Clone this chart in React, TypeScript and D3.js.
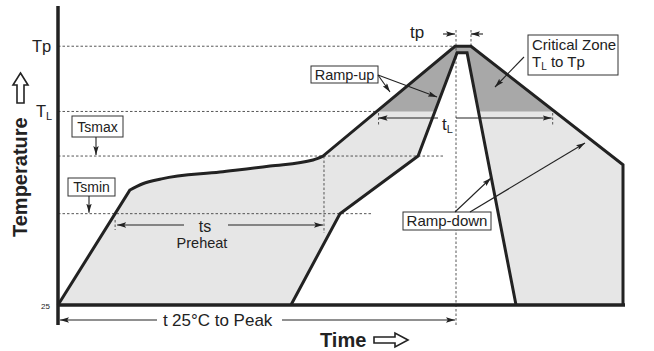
import * as d3 from "d3"

// schematic reflow profile: time in s, temperature in °C
const TP = 263
const TL = 203
const TSMAX = 162
const TSMIN = 109
const T25 = 25

const rampUpPts: [number, number][] = [[0, 25], [38.2, 130.8]]
const soakPts: [number, number][] = [
    [38.2, 130.8], [45, 136.5], [55, 141], [86, 147.3],
    [112.6, 152.8], [135.4, 158.4], [140.7, 162],
]
const peakPts: [number, number][] = [[140.7, 162], [210.8, 263], [219.3, 263], [300, 154], [300, 25]]
const innerPts: [number, number][] = [[123.7, 25], [149.7, 109], [191.2, 162], [211.9, 257], [217.2, 257], [243.2, 25]]

const tempLabels = ["Tp", "TL", "25"]

const FONT = "'Liberation Sans', Arial, Helvetica, sans-serif"
const INK = "#222"

function crossTime(a: [number, number], b: [number, number], temp: number) {
    return a[0] + ((b[0] - a[0]) * (temp - a[1])) / (b[1] - a[1])
}

export default function App() {
    const width = 654
    const height = 351
    const x = d3.scaleLinear().domain([0, 300]).range([58, 623])
    const y = d3.scaleLinear().domain([25, 300]).range([305, 6])

    const line = d3.line<[number, number]>().x((d) => x(d[0])).y((d) => y(d[1]))
    const soakLine = d3
        .line<[number, number]>()
        .x((d) => x(d[0]))
        .y((d) => y(d[1]))
        .curve(d3.curveMonotoneX)

    const outerPath =
        line(rampUpPts)! +
        soakLine(soakPts)!.replace(/^M/, "L") +
        line(peakPts)!.replace(/^M/, "L")
    const innerRev = [...innerPts].reverse()
    const regionPath = outerPath + line(innerRev)!.replace(/^M/, "L") + "Z"
    const innerPath = line(innerPts)!

    const tsStart = crossTime(rampUpPts[0], rampUpPts[1], TSMIN)
    const tsEnd = soakPts[soakPts.length - 1][0]
    const tlStart = crossTime(peakPts[0], peakPts[1], TL)
    const tlEnd = crossTime(peakPts[2], peakPts[3], TL)
    const tpStart = peakPts[1][0]
    const tpEnd = peakPts[2][0]

    const dash = { stroke: "#444", strokeWidth: 0.9, strokeDasharray: "2.5,2" }
    const arrow = { stroke: INK, strokeWidth: 1.1, markerEnd: "url(#ah)" }

    const box = (bx: number, by: number, bw: number, bh: number) => (
        <rect x={bx} y={by} width={bw} height={bh} fill="#fff" stroke="#333" strokeWidth={1} />
    )

    return (
        <svg width={width} height={height} style={{ position: "absolute", left: 0, top: 0 }} fontFamily={FONT}>
            <defs>
                <marker id="ah" viewBox="0 0 10 6" refX="10" refY="3" markerWidth="9" markerHeight="5.5"
                    markerUnits="userSpaceOnUse" orient="auto">
                    <path d="M0,0 L10,3 L0,6 L2,3 Z" fill={INK} />
                </marker>
                <clipPath id="crit">
                    <rect x={0} y={0} width={width} height={y(TL)} />
                </clipPath>
            </defs>
            <rect width={width} height={height} fill="#fff" />

            {/* zones */}
            <path d={regionPath} fill="#e6e6e6" />
            <path d={regionPath} fill="#a8a8a8" clipPath="url(#crit)" />

            {/* reference lines */}
            <line x1={x(0)} x2={x(tpStart)} y1={y(TP)} y2={y(TP)} {...dash} />
            <line x1={x(0)} x2={x(tlStart)} y1={y(TL)} y2={y(TL)} {...dash} />
            <line x1={x(0)} x2={445} y1={y(TSMAX)} y2={y(TSMAX)} {...dash} />
            <line x1={x(0)} x2={373} y1={y(TSMIN)} y2={y(TSMIN)} {...dash} />
            <line x1={x(tsEnd) + 1} x2={x(tsEnd) + 1} y1={y(TSMAX)} y2={233} {...dash} />
            <line x1={x(tsStart)} x2={x(tsStart)} y1={220} y2={230} {...dash} />
            <line x1={x(tpStart) + 1} x2={x(tpStart) + 1} y1={30} y2={325} {...dash} />
            <line x1={x(tpEnd)} x2={x(tpEnd)} y1={30} y2={y(TP)} {...dash} />
            <line x1={x(tlStart) + 2} x2={x(tlStart) + 2} y1={113} y2={126} {...dash} />
            <line x1={x(tlEnd) - 2} x2={x(tlEnd) - 2} y1={113} y2={126} {...dash} />

            {/* profiles */}
            <path d={outerPath} fill="none" stroke={INK} strokeWidth={3} strokeLinejoin="miter" />
            <path d={innerPath} fill="none" stroke={INK} strokeWidth={3} strokeLinejoin="miter" />

            {/* axes */}
            <line x1={x(0)} x2={x(0)} y1={y(300)} y2={325} stroke={INK} strokeWidth={3.5} />
            <line x1={x(0)} x2={625} y1={y(T25)} y2={y(T25)} stroke={INK} strokeWidth={3.5} />

            {/* temperature labels */}
            <text x={32} y={52} fontSize={16.5} fill={INK}>{tempLabels[0]}</text>
            <text x={36} y={117} fontSize={16.5} fill={INK}>T<tspan fontSize={11} dy={3}>L</tspan></text>
            <text x={50} y={309} fontSize={8} fill={INK} textAnchor="end">{tempLabels[2]}</text>

            <text transform="translate(27,237) rotate(-90)" fontSize={20} fontWeight="bold" fill={INK}>Temperature</text>
            <path d="M20.5,73 L28,85 L24,85 L24,103 L17,103 L17,85 L13,85 Z" fill="#fff" stroke={INK} strokeWidth={1.6} />

            <text x={320} y={347} fontSize={20} fontWeight="bold" fill={INK}>Time</text>
            <path d="M408,340 L395,333 L395,337 L374,337 L374,343 L395,343 L395,347 Z" fill="#fff" stroke={INK} strokeWidth={1.6} />

            {/* Tsmax / Tsmin */}
            {box(72, 116, 51, 21)}
            <text x={97.5} y={132} fontSize={14} textAnchor="middle" fill={INK}>Tsmax</text>
            <line x1={96} x2={96} y1={137} y2={y(TSMAX) - 1} {...arrow} />
            {box(68, 178, 47, 18)}
            <text x={91.5} y={192} fontSize={14} textAnchor="middle" fill={INK}>Tsmin</text>
            <line x1={89} x2={89} y1={196} y2={y(TSMIN) - 1} {...arrow} />

            {/* ts */}
            <line x1={184} x2={x(tsStart) + 2} y1={225} y2={225} {...arrow} />
            <line x1={228} x2={x(tsEnd)} y1={225} y2={225} {...arrow} />
            <text x={205} y={232} fontSize={16} textAnchor="middle" fill={INK}>ts</text>
            <text x={202} y={248} fontSize={14.5} textAnchor="middle" fill={INK}>Preheat</text>

            {/* t 25 to peak */}
            <line x1={157} x2={x(0) + 2} y1={320} y2={320} {...arrow} />
            <line x1={282} x2={x(tpStart)} y1={320} y2={320} {...arrow} />
            <text x={163} y={326} fontSize={17} fill={INK}>t</text>
            <text x={172} y={326} fontSize={17} fill={INK}>25°C to Peak</text>

            {/* tp */}
            <line x1={443} x2={x(tpStart)} y1={34} y2={34} {...arrow} />
            <line x1={483} x2={x(tpEnd)} y1={34} y2={34} {...arrow} />
            <text x={410} y={38} fontSize={17} fill={INK}>tp</text>

            {/* tL */}
            <line x1={438} x2={x(tlStart) + 2} y1={118} y2={118} {...arrow} />
            <line x1={x(tpStart) + 1} x2={x(tlEnd) - 3} y1={118} y2={118} {...arrow} />
            <text x={442} y={130} fontSize={17} fill={INK}>t<tspan fontSize={11} dy={3}>L</tspan></text>

            {/* Ramp-up */}
            {box(311, 66, 67, 17)}
            <text x={344.5} y={80} fontSize={14.5} textAnchor="middle" fill={INK}>Ramp-up</text>
            <line x1={378} x2={390} y1={75} y2={92} {...arrow} />
            <line x1={378} x2={437} y1={75} y2={97} {...arrow} />

            {/* Critical zone */}
            {box(528, 35, 90, 40)}
            <text x={532} y={50} fontSize={15} fill={INK}>Critical Zone</text>
            <text x={532} y={67} fontSize={15} fill={INK}>T<tspan fontSize={10} dy={3}>L</tspan><tspan dy={-3}> to Tp</tspan></text>
            <line x1={524} x2={495} y1={57} y2={87} {...arrow} />

            {/* Ramp-down */}
            {box(403, 212, 88, 18)}
            <text x={447} y={226} fontSize={15} textAnchor="middle" fill={INK}>Ramp-down</text>
            <line x1={455} x2={491} y1={212} y2={178} {...arrow} />
            <line x1={470} x2={585} y1={212} y2={143} {...arrow} />
        </svg>
    )
}
